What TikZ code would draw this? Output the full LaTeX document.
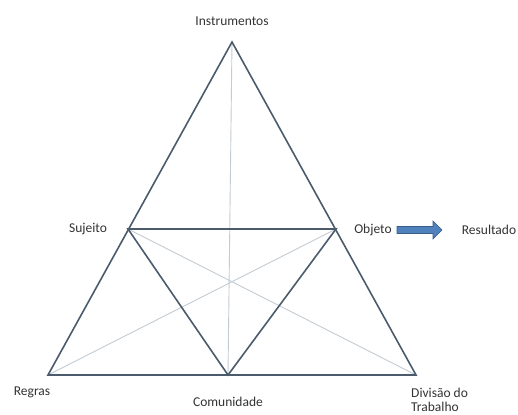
\documentclass[tikz,border=0pt]{standalone}
\usepackage{fontspec}
\setmainfont{Carlito}
\definecolor{edgedark}{HTML}{4B5B6B}
\definecolor{edgelight}{HTML}{C3CBD3}
\definecolor{labeltext}{HTML}{333333}
\definecolor{arrowfill}{HTML}{4F81BD}
\definecolor{arrowline}{HTML}{385D8A}
\begin{document}
\begin{tikzpicture}[x=1pt,y=-1pt,
  strong/.style={draw=edgedark,line width=1.6pt,line join=miter},
  faint/.style={draw=edgelight,line width=0.9pt},
  lbl/.style={text=labeltext,font=\fontsize{13.5}{14.5}\selectfont,inner sep=0pt},
  blockarrow/.style={draw=arrowline,fill=arrowfill,line width=0.6pt,line join=miter}]
\useasboundingbox (0,0) rectangle (518,414);
% vertices of the activity triangle
\coordinate (I) at (232,42);
\coordinate (S) at (128,229);
\coordinate (O) at (336,229);
\coordinate (R) at (48,375);
\coordinate (C) at (228,375);
\coordinate (D) at (416,375);
% light diagonals
\draw[faint] (I) -- (C);
\draw[faint] (S) -- (D);
\draw[faint] (O) -- (R);
% main triangles
\draw[strong] (I) -- (R) -- (D) -- cycle;
\draw[strong] (S) -- (O) -- (C) -- cycle;
% labels
\node[lbl] (tI) at (232,21) {Instrumentos};
\node[lbl] (tS) at (88,229) {Sujeito};
\node[lbl] (tO) at (373,230) {Objeto};
\node[lbl] (tRes) at (489,230) {Resultado};
\node[lbl] (tR) at (32,392) {Regras};
\node[lbl] (tC) at (228,402) {Comunidade};
\node[lbl,align=left,anchor=west] (tD) at (411,400) {Divisão do\\Trabalho};
% block arrow from object to result
\coordinate (a0) at (397,230);
\draw[blockarrow] (a0) ++(0,-3.5) -- ++(36,0) -- ++(0,-5.5) -- ++(9,9)
  -- ++(-9,9) -- ++(0,-5.5) -- ++(-36,0) -- cycle;
\end{tikzpicture}
\end{document}
